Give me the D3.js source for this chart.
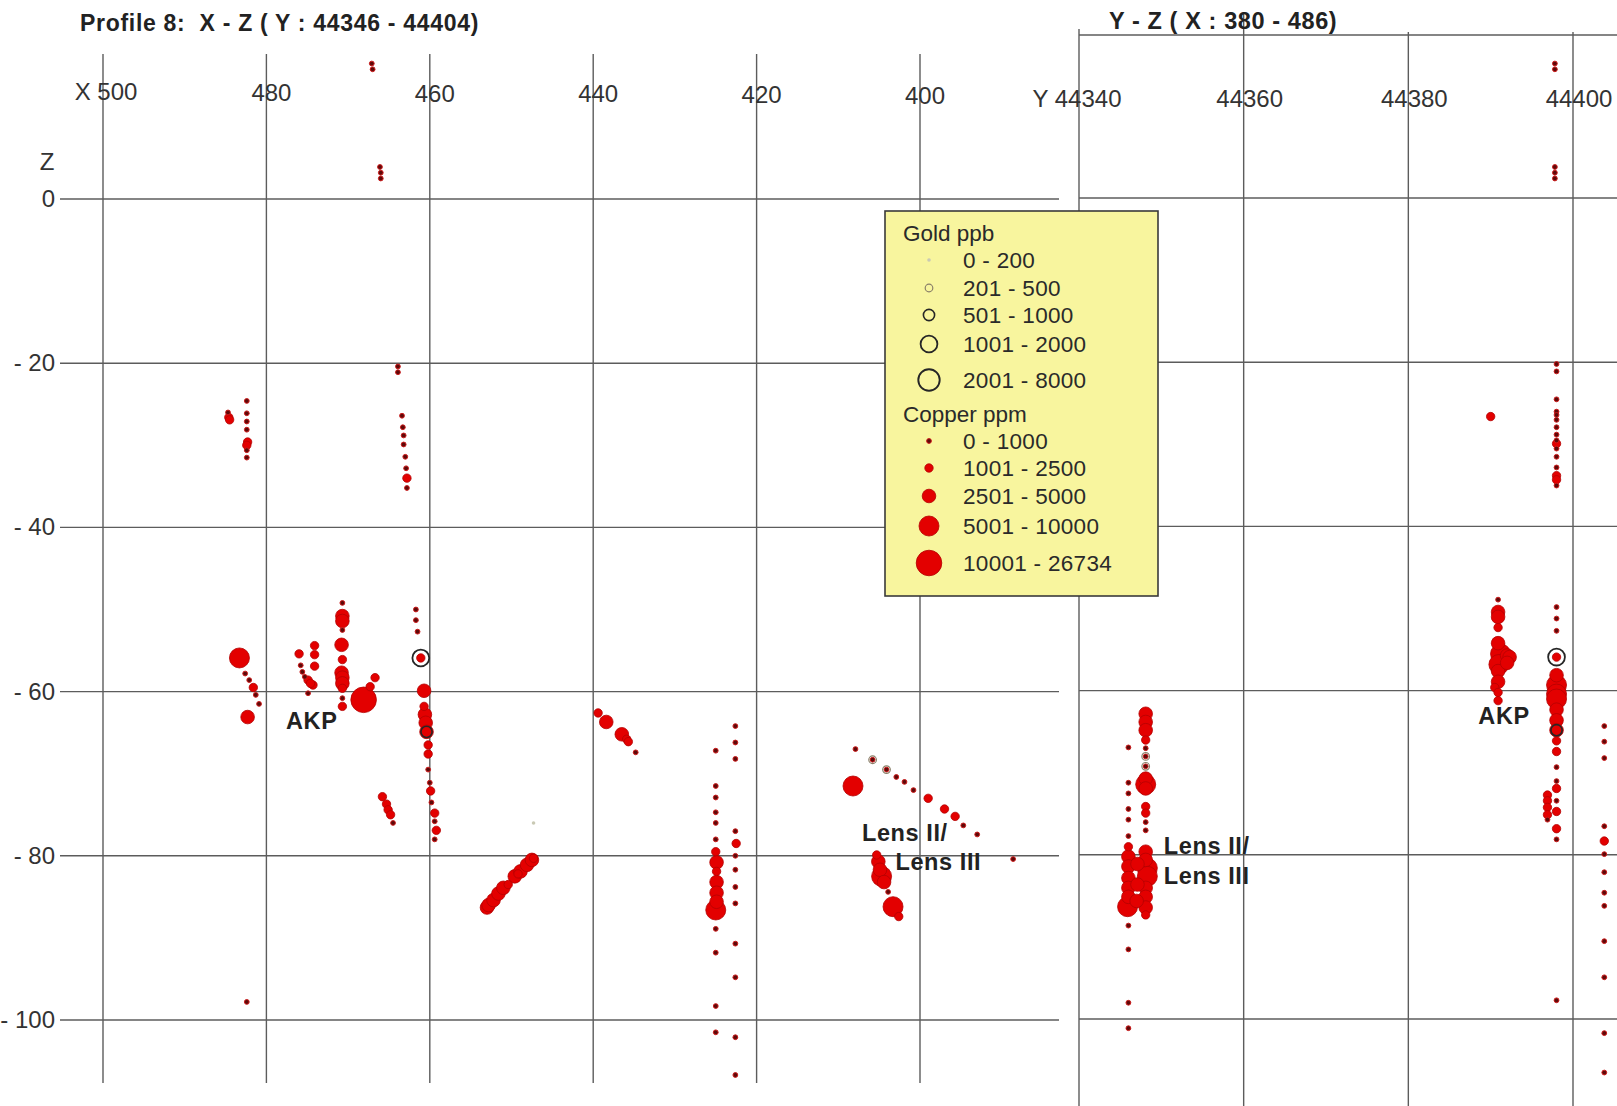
<!DOCTYPE html>
<html>
<head>
<meta charset="utf-8">
<script src="https://cdn.jsdelivr.net/npm/d3@7"></script>
<style>
  html, body { margin: 0; padding: 0; background: #ffffff; }
  svg { display: block; }
  text { font-family: "Liberation Sans", Arial, Helvetica, sans-serif; white-space: pre; }
</style>
</head>
<body>
<svg id="chart" width="1617" height="1106"></svg>
<script>
// ---------------- DATA ----------------
const titleLeft = "Profile 8:  X - Z ( Y : 44346 - 44404)";
const titleRight = "Y - Z ( X : 380 - 486)";

const xTicks = [500, 480, 460, 440, 420, 400];
const xTickLabels = ["X 500", "480", "460", "440", "420", "400"];
const yTicks = [44340, 44360, 44380, 44400];
const yTickLabels = ["Y 44340", "44360", "44380", "44400"];
const zTicks = [0, -20, -40, -60, -80, -100];
const zTickLabels = ["0", "- 20", "- 40", "- 60", "- 80", "- 100"];

const goldLabels = ["0 - 200", "201 - 500", "501 - 1000", "1001 - 2000", "2001 - 8000"];
const copperLabels = ["0 - 1000", "1001 - 2500", "2501 - 5000", "5001 - 10000", "10001 - 26734"];

// Left panel (X-Z): [X, Z, copper class 0..4]
const copperXZ = [
  [467.1, 16.5, 0], [467.0, 15.8, 0], [466.1, 3.9, 0], [466.0, 3.2, 0], [466.0, 2.5, 0],
  [484.7, -26.0, 0], [484.6, -26.6, 1], [484.5, -26.9, 1],
  [482.4, -24.6, 0], [482.4, -26.1, 0], [482.4, -27.1, 0], [482.4, -28.1, 0], [482.3, -29.6, 1], [482.4, -30.0, 1], [482.4, -30.6, 0], [482.4, -31.5, 0],
  [463.9, -20.4, 0], [463.9, -21.1, 0],
  [463.4, -26.4, 0], [463.3, -27.8, 0], [463.2, -28.8, 0], [463.2, -29.9, 0], [463.0, -31.4, 0], [462.9, -32.8, 0], [462.8, -34.0, 1], [462.8, -35.2, 0],
  [483.3, -55.9, 3], [482.6, -57.8, 0], [482.1, -58.6, 0], [481.6, -59.5, 1], [481.3, -60.4, 0], [480.9, -61.5, 0], [482.3, -63.1, 2],
  [476.0, -55.4, 1], [474.1, -54.4, 1], [474.1, -55.5, 1], [474.1, -56.9, 1], [475.8, -56.8, 0], [475.6, -57.6, 0], [475.3, -58.2, 0], [474.9, -58.6, 1], [474.3, -59.2, 1], [474.6, -59.0, 1], [474.9, -60.2, 0],
  [470.7, -49.2, 0], [470.7, -50.8, 2], [470.7, -51.4, 2], [470.7, -52.5, 0], [470.8, -54.3, 2], [470.7, -56.1, 1], [470.8, -57.7, 2], [470.7, -58.3, 2], [470.7, -59.0, 2], [470.7, -59.6, 1], [470.7, -60.8, 0], [470.7, -61.8, 1],
  [468.1, -61.0, 4], [467.3, -59.4, 1], [466.7, -58.3, 1],
  [461.7, -50.0, 0], [461.7, -51.3, 0], [461.5, -52.7, 0], [461.1, -55.9, 1], [460.7, -59.9, 2], [460.7, -61.8, 1], [460.6, -62.8, 2], [460.5, -63.8, 2], [460.4, -64.9, 2], [460.2, -66.5, 1], [460.2, -67.6, 1], [460.2, -69.5, 0], [460.0, -71.1, 0], [459.9, -72.1, 1], [459.8, -73.5, 0], [459.4, -74.8, 1], [459.4, -75.8, 0], [459.2, -76.9, 1], [459.4, -78.0, 0],
  [465.8, -72.8, 1], [465.3, -73.7, 1], [465.1, -74.4, 1], [464.8, -75.0, 1], [464.5, -76.0, 0],
  [439.4, -62.6, 1], [438.4, -63.7, 2], [436.5, -65.2, 2], [435.9, -65.8, 1], [435.7, -66.1, 1], [434.8, -67.4, 0],
  [453.0, -86.3, 2], [452.8, -86.0, 2], [452.2, -85.4, 2], [451.6, -84.6, 2], [451.0, -83.9, 2], [450.4, -83.5, 1], [449.6, -82.5, 2], [449.2, -82.2, 1], [448.9, -81.9, 2], [448.1, -81.1, 2], [447.5, -80.5, 2], [447.3, -80.3, 1],
  [482.4, -97.8, 0],
  [425.0, -67.2, 0], [425.0, -71.5, 0], [425.0, -72.9, 0], [425.0, -74.7, 0], [425.0, -76.0, 0], [425.0, -78.0, 0], [425.0, -79.5, 1], [424.9, -80.8, 2], [424.9, -81.9, 1], [424.9, -83.2, 2], [424.9, -84.5, 2], [424.9, -85.6, 2], [425.0, -86.6, 3], [425.0, -88.9, 0], [425.0, -91.8, 0], [425.0, -98.3, 0], [425.0, -101.5, 0],
  [422.6, -64.2, 0], [422.6, -66.2, 0], [422.6, -68.2, 0], [422.6, -77.0, 0], [422.5, -78.5, 1], [422.6, -80.0, 0], [422.6, -81.7, 0], [422.6, -83.8, 0], [422.6, -85.8, 0], [422.6, -90.7, 0], [422.6, -94.8, 0], [422.6, -102.1, 0], [422.6, -106.7, 0],
  [407.9, -67.0, 0], [405.8, -68.3, 0], [404.1, -69.5, 0], [402.9, -70.4, 0], [401.9, -71.0, 0], [400.8, -72.0, 0], [399.0, -73.0, 1], [397.0, -74.3, 1], [395.7, -75.2, 1], [394.7, -76.3, 0], [393.0, -77.4, 0], [388.6, -80.4, 0],
  [408.2, -71.5, 3],
  [405.3, -79.9, 1], [405.1, -80.7, 2], [404.9, -81.7, 2], [404.7, -82.5, 3], [404.4, -83.2, 2], [403.9, -84.4, 0], [403.3, -86.2, 3], [402.6, -87.4, 1]
];
// Left panel gold: [X, Z, gold class 0..4]
const goldXZ = [
  [461.1, -55.9, 3], [460.4, -64.9, 2], [405.8, -68.3, 1], [404.1, -69.5, 1], [447.3, -76.0, 0]
];

// Right panel (Y-Z): [Y, Z, copper class 0..4]
const copperYZ = [
  [44397.8, 16.5, 0], [44397.8, 15.8, 0], [44397.8, 3.9, 0], [44397.8, 3.2, 0], [44397.8, 2.5, 0],
  [44398.0, -20.1, 0], [44398.0, -21.0, 0], [44398.0, -24.4, 0], [44398.0, -25.9, 0], [44398.0, -26.3, 0], [44398.0, -26.9, 0], [44398.0, -27.8, 0], [44398.0, -28.7, 0], [44398.0, -29.4, 0], [44398.0, -29.8, 1], [44398.0, -30.4, 0], [44398.0, -31.4, 0], [44398.0, -32.7, 0], [44398.0, -33.7, 1], [44398.0, -34.2, 1], [44398.0, -34.9, 0],
  [44390.0, -26.5, 1],
  [44390.9, -48.8, 0], [44390.9, -50.3, 2], [44390.9, -50.9, 2], [44390.9, -52.2, 1], [44390.9, -54.1, 2], [44391.2, -55.4, 3], [44391.0, -56.7, 3], [44390.9, -57.5, 2], [44390.9, -58.8, 2], [44390.5, -59.5, 1], [44390.9, -60.1, 1], [44390.9, -61.1, 1], [44392.0, -55.6, 2], [44392.3, -55.8, 2], [44392.0, -56.5, 2],
  [44398.0, -49.7, 0], [44398.0, -51.1, 0], [44398.0, -52.6, 0], [44398.0, -55.8, 1], [44398.0, -58.0, 2], [44398.0, -59.2, 3], [44398.0, -60.3, 3], [44398.0, -60.9, 3], [44398.0, -62.2, 2], [44398.0, -63.5, 2], [44398.0, -64.7, 2], [44398.0, -66.0, 1], [44398.0, -67.3, 1], [44398.0, -69.2, 0], [44398.0, -70.9, 0], [44398.0, -71.8, 1], [44398.0, -73.3, 0], [44398.0, -74.6, 1], [44398.0, -76.7, 1], [44398.0, -78.0, 0],
  [44396.9, -72.6, 1], [44396.9, -73.3, 1], [44396.9, -74.1, 1], [44396.9, -75.0, 1], [44396.9, -75.6, 0],
  [44398.0, -97.6, 0],
  [44403.8, -64.2, 0], [44403.8, -66.1, 0], [44403.8, -68.1, 0], [44403.8, -76.4, 0], [44403.8, -78.2, 1], [44403.8, -79.8, 0], [44403.8, -82.0, 0], [44403.8, -84.5, 0], [44403.8, -86.1, 0], [44403.8, -90.4, 0], [44403.8, -94.8, 0], [44403.8, -101.6, 0], [44403.8, -106.4, 0],
  [44346.0, -66.8, 0], [44346.0, -71.1, 0], [44346.0, -72.4, 0], [44346.0, -74.3, 0], [44346.0, -75.6, 0], [44346.0, -77.6, 0], [44346.0, -78.9, 1], [44346.0, -80.1, 2], [44346.0, -81.3, 2], [44346.0, -82.7, 2], [44346.0, -83.9, 2], [44346.0, -85.0, 2], [44345.9, -86.2, 3], [44346.0, -88.5, 0], [44346.0, -91.4, 0], [44346.0, -97.9, 0], [44346.0, -101.0, 0],
  [44348.1, -62.7, 2], [44348.1, -63.7, 2], [44348.1, -64.7, 2], [44348.1, -65.9, 1], [44348.1, -66.9, 0], [44348.1, -67.9, 0], [44348.1, -69.1, 0], [44348.1, -70.6, 2], [44348.1, -71.3, 3], [44348.1, -71.8, 2], [44348.1, -74.0, 1], [44348.1, -74.8, 1], [44348.1, -75.9, 0], [44348.1, -76.9, 0],
  [44348.1, -79.5, 2], [44348.1, -80.5, 2], [44348.3, -81.5, 3], [44348.3, -82.5, 3], [44348.1, -83.9, 2], [44348.1, -85.0, 2], [44348.1, -86.3, 2], [44348.1, -87.2, 1],
  [44347.1, -81.0, 2], [44347.1, -83.5, 2], [44347.0, -85.5, 2]
];
// Right panel gold: [Y, Z, gold class 0..4]
const goldYZ = [
  [44348.1, -67.9, 1], [44348.1, -69.1, 1], [44398.0, -55.8, 3], [44398.0, -64.7, 2]
];

// Zone labels: [text, coordinate, Z, panel]
const zoneLabels = [
  ["AKP", 477.6, -64.5, "L"],
  ["Lens II/", 407.1, -78.2, "L"],
  ["Lens III", 403.0, -81.7, "L"],
  ["AKP", 44388.5, -63.9, "R"],
  ["Lens II/", 44350.3, -79.8, "R"],
  ["Lens III", 44350.3, -83.4, "R"]
];

// ---------------- LAYOUT / STYLE ----------------
const W = 1617, H = 1106;
const svg = d3.select("#chart");
svg.append("rect").attr("width", W).attr("height", H).attr("fill", "#ffffff");

const xL = d3.scaleLinear().domain([500, 400]).range([103, 920]);
const yR = d3.scaleLinear().domain([44340, 44400]).range([1079, 1573]);
const zS = d3.scaleLinear().domain([0, -100]).range([199, 1020]);

const cuR = d3.scaleOrdinal().domain([0, 1, 2, 3, 4]).range([2.4, 4.2, 6.8, 10, 12.8]);
const auR = d3.scaleOrdinal().domain([0, 1, 2, 3, 4]).range([1.8, 3.8, 5.6, 8.4, 10.7]);
const auStroke = ["#c9c9b4", "#8a7f68", "#262626", "#262626", "#262626"];
const auWidth = [0, 1.2, 1.6, 1.8, 1.9];
const cuFill = ["#5e0909", "#e30000"];
const cuStroke = ["#cc1a1a", "#b40000"];

const gridColor = "#5c5c5c";
const gridW = 1.4;
const tickFont = 24;
const tickColor = "#333333";

const grid = svg.append("g");

// Left panel grid
grid.selectAll(".vl").data(xTicks).join("line")
  .attr("x1", d => xL(d)).attr("x2", d => xL(d))
  .attr("y1", 54).attr("y2", 1083)
  .attr("stroke", gridColor).attr("stroke-width", gridW);
grid.selectAll(".hl").data(zTicks).join("line")
  .attr("x1", 60).attr("x2", 1059)
  .attr("y1", d => zS(d)).attr("y2", d => zS(d))
  .attr("stroke", gridColor).attr("stroke-width", gridW);

// Right panel grid
const gridR = svg.append("g");
gridR.selectAll("line.v").data(yTicks).join("line")
  .attr("x1", d => yR(d)).attr("x2", d => yR(d))
  .attr("y1", (d, i) => i === 0 ? 29 : (i === 1 ? 12 : 32)).attr("y2", H)
  .attr("stroke", gridColor).attr("stroke-width", gridW);
gridR.append("line")
  .attr("x1", yR(44340)).attr("x2", W).attr("y1", 35).attr("y2", 35)
  .attr("stroke", gridColor).attr("stroke-width", gridW);
gridR.selectAll("line.h").data(zTicks).join("line")
  .attr("x1", yR(44340)).attr("x2", W)
  .attr("y1", d => zS(d) - 1).attr("y2", d => zS(d) - 1)
  .attr("stroke", gridColor).attr("stroke-width", gridW);

// Tick labels
const labels = svg.append("g").attr("fill", tickColor).attr("font-size", tickFont);
labels.selectAll(".xt").data(xTicks).join("text")
  .attr("x", (d, i) => xL(d) + (i === 0 ? 3 : 5))
  .attr("y", (d, i) => 100 + i * 0.8)
  .attr("text-anchor", "middle")
  .text((d, i) => xTickLabels[i]);
labels.selectAll(".yt").data(yTicks).join("text")
  .attr("x", (d, i) => yR(d) + (i === 0 ? -2 : 6))
  .attr("y", 107)
  .attr("text-anchor", "middle")
  .text((d, i) => yTickLabels[i]);
labels.selectAll(".zt").data(zTicks).join("text")
  .attr("x", 55)
  .attr("y", d => zS(d) + 8)
  .attr("text-anchor", "end")
  .text((d, i) => zTickLabels[i]);
labels.append("text").attr("x", 47).attr("y", 170).attr("text-anchor", "middle").text("Z");

// Titles
svg.append("text").attr("x", 80).attr("y", 31)
  .attr("font-size", 23).attr("font-weight", "bold").attr("fill", "#222")
  .attr("letter-spacing", 0.7)
  .text(titleLeft);
svg.append("text").attr("x", 1109).attr("y", 29)
  .attr("font-size", 23.5).attr("font-weight", "bold").attr("fill", "#222")
  .attr("letter-spacing", 0.6)
  .text(titleRight);

// ---------------- MARKS ----------------
function drawCopper(g, data, xs) {
  const sorted = data.slice().sort((a, b) => b[2] - a[2]);
  g.selectAll("circle").data(sorted).join("circle")
    .attr("cx", d => xs(d[0]))
    .attr("cy", d => zS(d[1]))
    .attr("r", d => cuR(d[2]))
    .attr("fill", d => d[2] === 0 ? cuFill[0] : cuFill[1])
    .attr("stroke", d => d[2] === 0 ? cuStroke[0] : cuStroke[1])
    .attr("stroke-width", d => d[2] === 0 ? 1 : 0.8);
}
function drawGold(g, data, xs) {
  g.selectAll("circle").data(data).join("circle")
    .attr("cx", d => xs(d[0]))
    .attr("cy", d => zS(d[1]))
    .attr("r", d => auR(d[2]))
    .attr("fill", d => d[2] === 0 ? auStroke[0] : "none")
    .attr("stroke", d => auStroke[d[2]])
    .attr("stroke-width", d => auWidth[d[2]]);
}
drawCopper(svg.append("g"), copperXZ, xL);
drawCopper(svg.append("g"), copperYZ, yR);
drawGold(svg.append("g"), goldXZ, xL);
drawGold(svg.append("g"), goldYZ, yR);

// Zone labels
svg.append("g").selectAll("text").data(zoneLabels).join("text")
  .attr("x", d => d[3] === "L" ? xL(d[1]) : yR(d[1]))
  .attr("y", d => zS(d[2]))
  .attr("font-size", 23.5).attr("font-weight", "bold").attr("fill", "#222")
  .attr("letter-spacing", 0.6)
  .text(d => d[0]);

// ---------------- LEGEND ----------------
const lg = svg.append("g");
lg.append("rect").attr("x", 885).attr("y", 211).attr("width", 273).attr("height", 385)
  .attr("fill", "#f8f59e").attr("stroke", "#3a3a3a").attr("stroke-width", 1.6);
const legFont = 22.5;
const symX = 929, txtX = 963;
const goldRowY = [260, 288, 315, 344, 380];
const cuRowY = [441, 468, 496, 526, 563];
lg.append("text").attr("x", 903).attr("y", 241).attr("font-size", legFont).attr("fill", "#2a2a2a").text("Gold ppb");
lg.append("text").attr("x", 903).attr("y", 422).attr("font-size", legFont).attr("fill", "#2a2a2a").text("Copper ppm");
goldLabels.forEach((t, i) => {
  lg.append("circle").attr("cx", symX).attr("cy", goldRowY[i]).attr("r", auR(i))
    .attr("fill", i === 0 ? auStroke[0] : "none")
    .attr("stroke", auStroke[i]).attr("stroke-width", auWidth[i]);
  lg.append("text").attr("x", txtX).attr("y", goldRowY[i] + 8).attr("font-size", legFont)
    .attr("fill", "#2a2a2a").attr("letter-spacing", 0.3).text(t);
});
copperLabels.forEach((t, i) => {
  lg.append("circle").attr("cx", symX).attr("cy", cuRowY[i]).attr("r", cuR(i))
    .attr("fill", i === 0 ? cuFill[0] : cuFill[1])
    .attr("stroke", i === 0 ? cuStroke[0] : cuStroke[1]).attr("stroke-width", i === 0 ? 1 : 0.8);
  lg.append("text").attr("x", txtX).attr("y", cuRowY[i] + 8).attr("font-size", legFont)
    .attr("fill", "#2a2a2a").attr("letter-spacing", 0.3).text(t);
});
</script>
</body>
</html>
